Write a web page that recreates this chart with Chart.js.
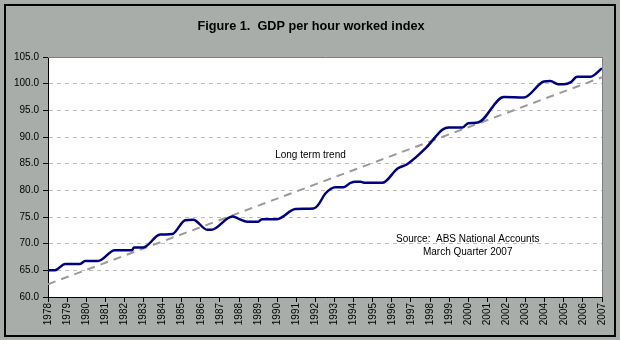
<!DOCTYPE html>
<html>
<head>
<meta charset="utf-8">
<script src="https://cdn.jsdelivr.net/npm/chart.js@4.4.1/dist/chart.umd.min.js"></script>
<style>
  html, body { margin: 0; padding: 0; background: #a9ada9; }
  canvas { display: block; }
</style>
</head>
<body>
<canvas id="c" width="620" height="340"></canvas>
<script>
// ---- Data ----
const yearLabels = ['1978','1979','1980','1981','1982','1983','1984','1985','1986','1987',
  '1988','1989','1990','1991','1992','1993','1994','1995','1996','1997',
  '1998','1999','2000','2001','2002','2003','2004','2005','2006','2007'];

// GDP per hour worked index (points along the series, x in years)
const gdpYears = [1978.0, 1978.37, 1978.52, 1978.9, 1979.68, 1979.94, 1980.62, 1981.5, 1982.4, 1982.5,
  1982.98, 1983.87, 1984.5, 1985.18, 1985.6, 1986.34, 1986.55, 1987.65, 1987.96, 1988.43,
  1989.0, 1989.2, 1990.0, 1990.95, 1991.9, 1992.15, 1992.52, 1993.05, 1993.47, 1993.84,
  1994.1, 1994.36, 1994.6, 1995.5, 1996.3, 1996.8, 1997.77, 1998.66, 1998.97, 1999.7,
  2000.0, 2000.5, 2001.86, 2002.9, 2003.96, 2004.3, 2004.7, 2005.0, 2005.37, 2005.7,
  2006.4, 2007.0];
const gdpIndex = [65.0, 65.0, 65.3, 66.2, 66.2, 66.75, 66.75, 68.75, 68.75, 69.3,
  69.3, 71.7, 71.8, 74.4, 74.5, 72.6, 72.6, 75.1, 74.7, 74.1,
  74.1, 74.6, 74.6, 76.5, 76.6, 77.3, 79.4, 80.6, 80.6, 81.4,
  81.6, 81.6, 81.4, 81.4, 84.1, 84.9, 87.9, 91.4, 91.8, 91.8,
  92.6, 92.7, 97.5, 97.4, 100.4, 100.5, 99.9, 99.9, 100.3, 101.3,
  101.3, 102.9];

// Long term trend (straight line)
const trendYears = [1978, 2007];
const trendIndex = [62.4, 101.2];

const titleText = 'Figure 1.  GDP per hour worked index';
const trendLabel = 'Long term trend';
const sourceLines = ['Source:  ABS National Accounts', 'March Quarter 2007'];

// ---- Build datasets ----
const gdpPoints = gdpYears.map((x, i) => ({ x: x, y: gdpIndex[i] }));
const trendPoints = trendYears.map((x, i) => ({ x: x, y: trendIndex[i] }));

const FONT = "'Liberation Sans', Arial, sans-serif";

const framePlugin = {
  id: 'frame',
  beforeDraw(chart) {
    const ctx = chart.ctx, a = chart.chartArea;
    ctx.save();
    ctx.fillStyle = '#a9ada9';
    ctx.fillRect(0, 0, chart.width, chart.height);
    ctx.strokeStyle = '#000000';
    ctx.lineWidth = 2;
    ctx.strokeRect(5, 5, 610, 331);
    ctx.fillStyle = '#ffffff';
    ctx.fillRect(a.left, a.top, a.right - a.left, a.bottom - a.top);
    // title
    ctx.fillStyle = '#000000';
    ctx.font = 'bold 12.7px ' + FONT;
    ctx.textAlign = 'center';
    ctx.textBaseline = 'middle';
    ctx.fillText(titleText, 311, 26);
    ctx.restore();
  },
  afterDraw(chart) {
    const ctx = chart.ctx, a = chart.chartArea;
    ctx.save();
    ctx.strokeStyle = '#808080';
    ctx.lineWidth = 1;
    ctx.beginPath();
    ctx.moveTo(a.left, a.top + 0.5);
    ctx.lineTo(a.right + 0.5, a.top + 0.5);
    ctx.lineTo(a.right + 0.5, a.bottom);
    ctx.stroke();
    // notes placed in data coordinates
    const xs = chart.scales.x, ys = chart.scales.y;
    ctx.fillStyle = '#000000';
    ctx.font = '10px ' + FONT;
    ctx.textAlign = 'center';
    ctx.textBaseline = 'middle';
    ctx.fillText(trendLabel, xs.getPixelForValue(1991.74), ys.getPixelForValue(86.6));
    ctx.fillText(sourceLines[0], xs.getPixelForValue(1999.97), ys.getPixelForValue(70.9));
    ctx.fillText(sourceLines[1], xs.getPixelForValue(1999.97), ys.getPixelForValue(68.45));
    ctx.restore();
  }
};

new Chart(document.getElementById('c'), {
  type: 'line',
  data: {
    datasets: [
      {
        label: 'GDP per hour worked index',
        data: gdpPoints,
        borderColor: '#000080',
        borderWidth: 2.5,
        pointRadius: 0,
        fill: false,
        cubicInterpolationMode: 'monotone',
        order: 1
      },
      {
        label: trendLabel,
        data: trendPoints,
        borderColor: '#9a9a9a',
        borderWidth: 2,
        borderDash: [8, 6],
        pointRadius: 0,
        fill: false,
        order: 2
      }
    ]
  },
  options: {
    responsive: false,
    animation: false,
    devicePixelRatio: 1,
    layout: { padding: { left: 0, right: 18, top: 57, bottom: 0 } },
    plugins: {
      legend: { display: false },
      tooltip: { enabled: false },
      title: { display: false }
    },
    scales: {
      x: {
        type: 'linear',
        min: 1978,
        max: 2007,
        afterFit(s) { s.height = 43; },
        afterBuildTicks(s) {
          s.ticks = yearLabels.map(l => ({ value: Number(l) }));
        },
        ticks: {
          autoSkip: false,
          maxRotation: 90,
          minRotation: 90,
          padding: 1,
          color: '#000000',
          font: { family: FONT, size: 10 },
          callback: (v) => yearLabels[yearLabels.indexOf(String(v))] || ''
        },
        grid: {
          display: true,
          drawOnChartArea: false,
          drawTicks: true,
          tickLength: 5,
          tickColor: '#000000',
          color: '#000000'
        },
        border: { display: true, color: '#000000', width: 1 }
      },
      y: {
        min: 60,
        max: 105,
        afterFit(s) { s.width = 48; },
        ticks: {
          stepSize: 5,
          padding: 4,
          color: '#000000',
          font: { family: FONT, size: 10 },
          callback: (v) => Number(v).toFixed(1)
        },
        grid: {
          drawTicks: true,
          tickLength: 5,
          tickColor: '#000000',
          tickBorderDash: [],
          color: (c) => (c.tick && (c.tick.value === 60 || c.tick.value === 105)) ? 'rgba(0,0,0,0)' : '#bdbdbd',
          lineWidth: 1
        },
        border: { display: true, color: '#000000', width: 1, dash: [4, 4] }
      }
    }
  },
  plugins: [framePlugin]
});
</script>
</body>
</html>
